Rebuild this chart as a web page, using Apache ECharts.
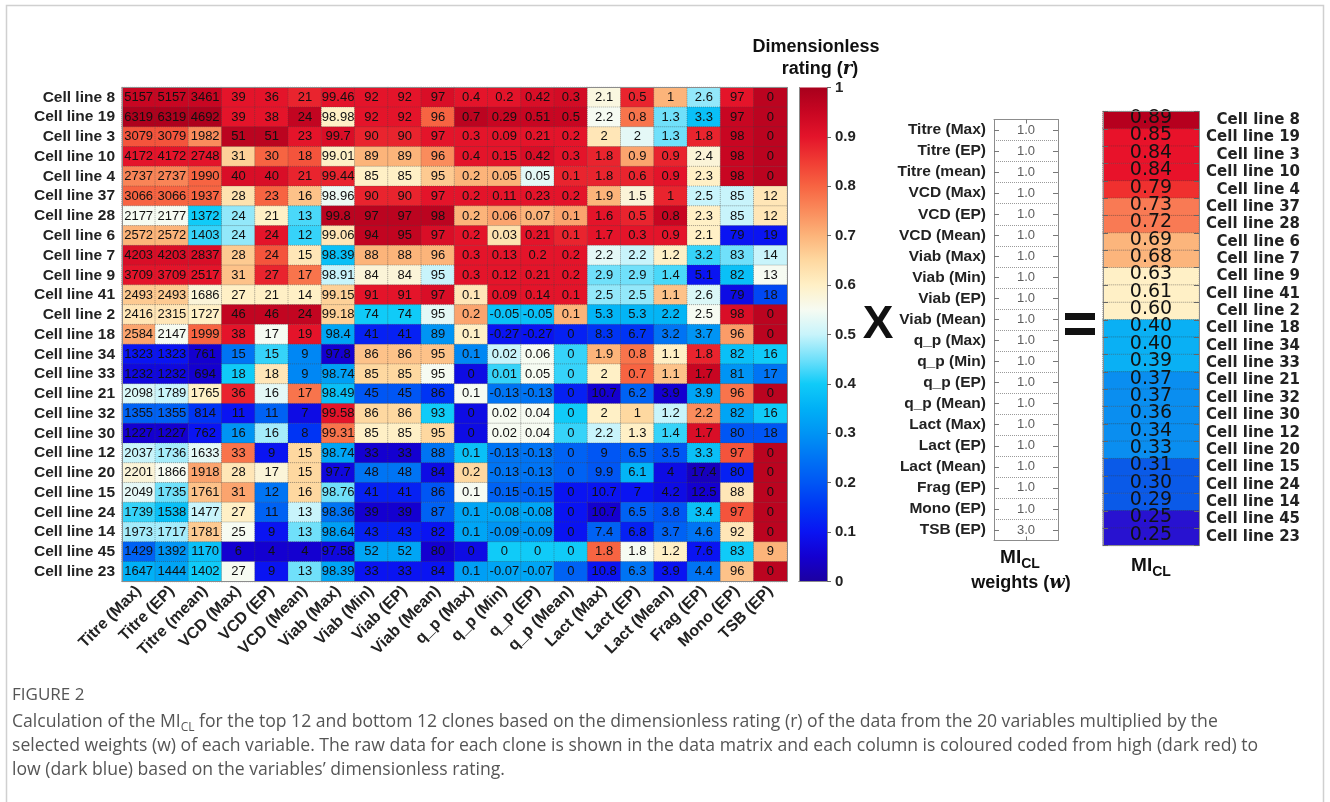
<!DOCTYPE html>
<html>
<head>
<meta charset="utf-8">
<script src="https://cdn.jsdelivr.net/npm/echarts@6/dist/echarts.min.js"></script>
<style>
  html, body { margin: 0; padding: 0; background: #ffffff; }
  #chart { width: 1330px; height: 802px; }
</style>
</head>
<body>
<div id="chart"></div>
<script>
// ---- Data -------------------------------------------------------------
const cellLines = [
  'Cell line 8', 'Cell line 19', 'Cell line 3', 'Cell line 10', 'Cell line 4',
  'Cell line 37', 'Cell line 28', 'Cell line 6', 'Cell line 7', 'Cell line 9',
  'Cell line 41', 'Cell line 2', 'Cell line 18', 'Cell line 34', 'Cell line 33',
  'Cell line 21', 'Cell line 32', 'Cell line 30', 'Cell line 12', 'Cell line 20',
  'Cell line 15', 'Cell line 24', 'Cell line 14', 'Cell line 45', 'Cell line 23'
];

const variables = [
  'Titre (Max)', 'Titre (EP)', 'Titre (mean)', 'VCD (Max)', 'VCD (EP)',
  'VCD (Mean)', 'Viab (Max)', 'Viab (Min)', 'Viab (EP)', 'Viab (Mean)',
  'q_p (Max)', 'q_p (Min)', 'q_p (EP)', 'q_p (Mean)', 'Lact (Max)',
  'Lact (EP)', 'Lact (Mean)', 'Frag (EP)', 'Mono (EP)', 'TSB (EP)'
];

// Raw measurements, one row per cell line (column order = variables)
const rawValues = [
  [5157, 5157, 3461, 39, 36, 21, 99.46, 92, 92, 97, 0.4, 0.2, 0.42, 0.3, 2.1, 0.5, 1, 2.6, 97, 0],
  [6319, 6319, 4692, 39, 38, 24, 98.98, 92, 92, 96, 0.7, 0.29, 0.51, 0.5, 2.2, 0.8, 1.3, 3.3, 97, 0],
  [3079, 3079, 1982, 51, 51, 23, 99.7, 90, 90, 97, 0.3, 0.09, 0.21, 0.2, 2, 2, 1.3, 1.8, 98, 0],
  [4172, 4172, 2748, 31, 30, 18, 99.01, 89, 89, 96, 0.4, 0.15, 0.42, 0.3, 1.8, 0.9, 0.9, 2.4, 98, 0],
  [2737, 2737, 1990, 40, 40, 21, 99.44, 85, 85, 95, 0.2, 0.05, 0.05, 0.1, 1.8, 0.6, 0.9, 2.3, 98, 0],
  [3066, 3066, 1937, 28, 23, 16, 98.96, 90, 90, 97, 0.2, 0.11, 0.23, 0.2, 1.9, 1.5, 1, 2.5, 85, 12],
  [2177, 2177, 1372, 24, 21, 13, 99.8, 97, 97, 98, 0.2, 0.06, 0.07, 0.1, 1.6, 0.5, 0.8, 2.3, 85, 12],
  [2572, 2572, 1403, 24, 24, 12, 99.06, 94, 95, 97, 0.2, 0.03, 0.21, 0.1, 1.7, 0.3, 0.9, 2.1, 79, 19],
  [4203, 4203, 2837, 28, 24, 15, 98.39, 88, 88, 96, 0.3, 0.13, 0.2, 0.2, 2.2, 2.2, 1.2, 3.2, 83, 14],
  [3709, 3709, 2517, 31, 27, 17, 98.91, 84, 84, 95, 0.3, 0.12, 0.21, 0.2, 2.9, 2.9, 1.4, 5.1, 82, 13],
  [2493, 2493, 1686, 27, 21, 14, 99.15, 91, 91, 97, 0.1, 0.09, 0.14, 0.1, 2.5, 2.5, 1.1, 2.6, 79, 18],
  [2416, 2315, 1727, 46, 46, 24, 99.18, 74, 74, 95, 0.2, -0.05, -0.05, 0.1, 5.3, 5.3, 2.2, 2.5, 98, 0],
  [2584, 2147, 1999, 38, 17, 19, 98.4, 41, 41, 89, 0.1, -0.27, -0.27, 0, 8.3, 6.7, 3.2, 3.7, 96, 0],
  [1323, 1323, 761, 15, 15, 9, 97.8, 86, 86, 95, 0.1, 0.02, 0.06, 0, 1.9, 0.8, 1.1, 1.8, 82, 16],
  [1232, 1232, 694, 18, 18, 9, 98.74, 85, 85, 95, 0, 0.01, 0.05, 0, 2, 0.7, 1.1, 1.7, 81, 17],
  [2098, 1789, 1765, 36, 16, 17, 98.49, 45, 45, 86, 0.1, -0.13, -0.13, 0, 10.7, 6.2, 3.9, 3.9, 96, 0],
  [1355, 1355, 814, 11, 11, 7, 99.58, 86, 86, 93, 0, 0.02, 0.04, 0, 2, 1, 1.2, 2.2, 82, 16],
  [1227, 1227, 762, 16, 16, 8, 99.31, 85, 85, 95, 0, 0.02, 0.04, 0, 2.2, 1.3, 1.4, 1.7, 80, 18],
  [2037, 1736, 1633, 33, 9, 15, 98.74, 33, 33, 88, 0.1, -0.13, -0.13, 0, 9, 6.5, 3.5, 3.3, 97, 0],
  [2201, 1866, 1918, 28, 17, 15, 97.7, 48, 48, 84, 0.2, -0.13, -0.13, 0, 9.9, 6.1, 4, 17.4, 80, 0],
  [2049, 1735, 1761, 31, 12, 16, 98.76, 41, 41, 86, 0.1, -0.15, -0.15, 0, 10.7, 7, 4.2, 12.5, 88, 0],
  [1739, 1538, 1477, 27, 11, 13, 98.36, 39, 39, 87, 0.1, -0.08, -0.08, 0, 10.7, 6.5, 3.8, 3.4, 97, 0],
  [1973, 1717, 1781, 25, 9, 13, 98.64, 43, 43, 82, 0.1, -0.09, -0.09, 0, 7.4, 6.8, 3.7, 4.6, 92, 0],
  [1429, 1392, 1170, 6, 4, 4, 97.58, 52, 52, 80, 0, 0, 0, 0, 1.8, 1.8, 1.2, 7.6, 83, 9],
  [1647, 1444, 1402, 27, 9, 13, 98.39, 33, 33, 84, 0.1, -0.07, -0.07, 0, 10.8, 6.3, 3.9, 4.4, 96, 0]
];

// Dimensionless rating (r) of every cell, 0 = worst, 1 = best
const ratings = [
  [0.95, 0.95, 0.95, 0.90, 0.90, 0.88, 0.90, 0.90, 0.90, 0.92, 0.90, 0.90, 0.92, 0.93, 0.57, 0.88, 0.70, 0.47, 0.90, 0.97],
  [0.99, 0.99, 0.99, 0.90, 0.90, 0.96, 0.60, 0.90, 0.90, 0.80, 0.97, 0.95, 0.95, 0.95, 0.55, 0.78, 0.45, 0.38, 0.95, 0.97],
  [0.82, 0.82, 0.75, 0.97, 0.97, 0.90, 0.92, 0.88, 0.88, 0.90, 0.90, 0.90, 0.90, 0.90, 0.62, 0.53, 0.45, 0.88, 0.95, 0.97],
  [0.90, 0.90, 0.90, 0.66, 0.80, 0.82, 0.60, 0.70, 0.70, 0.75, 0.90, 0.90, 0.92, 0.90, 0.88, 0.72, 0.88, 0.58, 0.95, 0.97],
  [0.76, 0.76, 0.80, 0.92, 0.92, 0.88, 0.88, 0.60, 0.60, 0.67, 0.70, 0.70, 0.53, 0.88, 0.88, 0.88, 0.90, 0.60, 0.95, 0.97],
  [0.80, 0.80, 0.80, 0.63, 0.80, 0.68, 0.54, 0.88, 0.88, 0.90, 0.90, 0.90, 0.90, 0.90, 0.70, 0.58, 0.88, 0.50, 0.50, 0.62],
  [0.55, 0.55, 0.40, 0.47, 0.60, 0.43, 0.97, 0.97, 0.97, 0.97, 0.70, 0.72, 0.70, 0.72, 0.90, 0.88, 0.95, 0.60, 0.50, 0.62],
  [0.70, 0.70, 0.42, 0.47, 0.90, 0.42, 0.62, 0.96, 0.96, 0.92, 0.90, 0.63, 0.90, 0.88, 0.90, 0.90, 0.90, 0.60, 0.10, 0.10],
  [0.92, 0.92, 0.92, 0.67, 0.82, 0.62, 0.38, 0.70, 0.70, 0.70, 0.90, 0.90, 0.90, 0.90, 0.53, 0.50, 0.60, 0.42, 0.45, 0.50],
  [0.90, 0.90, 0.90, 0.68, 0.88, 0.78, 0.50, 0.58, 0.58, 0.50, 0.90, 0.90, 0.90, 0.90, 0.45, 0.45, 0.43, 0.10, 0.38, 0.55],
  [0.67, 0.67, 0.58, 0.60, 0.60, 0.60, 0.66, 0.90, 0.90, 0.92, 0.62, 0.90, 0.90, 0.90, 0.47, 0.47, 0.68, 0.52, 0.08, 0.18],
  [0.62, 0.62, 0.60, 0.96, 0.96, 0.96, 0.66, 0.40, 0.40, 0.53, 0.72, 0.38, 0.38, 0.70, 0.36, 0.36, 0.36, 0.55, 0.92, 0.97],
  [0.72, 0.55, 0.80, 0.90, 0.55, 0.90, 0.33, 0.12, 0.12, 0.30, 0.60, 0.10, 0.10, 0.12, 0.15, 0.15, 0.25, 0.30, 0.73, 0.97],
  [0.10, 0.10, 0.05, 0.25, 0.42, 0.28, 0.05, 0.68, 0.68, 0.68, 0.28, 0.50, 0.55, 0.42, 0.70, 0.78, 0.60, 0.88, 0.38, 0.40],
  [0.07, 0.07, 0.05, 0.40, 0.62, 0.28, 0.32, 0.65, 0.65, 0.55, 0.08, 0.42, 0.55, 0.42, 0.60, 0.80, 0.68, 0.95, 0.30, 0.25],
  [0.52, 0.50, 0.60, 0.88, 0.53, 0.78, 0.38, 0.20, 0.20, 0.15, 0.55, 0.25, 0.25, 0.12, 0.05, 0.22, 0.05, 0.33, 0.78, 0.97],
  [0.22, 0.22, 0.15, 0.10, 0.22, 0.08, 0.90, 0.65, 0.65, 0.40, 0.08, 0.55, 0.55, 0.40, 0.60, 0.65, 0.50, 0.75, 0.33, 0.40],
  [0.05, 0.05, 0.10, 0.30, 0.48, 0.15, 0.78, 0.60, 0.60, 0.65, 0.08, 0.55, 0.55, 0.42, 0.50, 0.60, 0.42, 0.92, 0.20, 0.20],
  [0.50, 0.48, 0.53, 0.78, 0.10, 0.65, 0.33, 0.05, 0.05, 0.25, 0.38, 0.25, 0.25, 0.22, 0.20, 0.22, 0.20, 0.38, 0.82, 0.97],
  [0.58, 0.55, 0.72, 0.62, 0.58, 0.65, 0.07, 0.25, 0.25, 0.08, 0.65, 0.25, 0.25, 0.22, 0.20, 0.36, 0.08, 0.03, 0.12, 0.97],
  [0.53, 0.45, 0.68, 0.72, 0.25, 0.65, 0.45, 0.12, 0.12, 0.20, 0.55, 0.22, 0.22, 0.10, 0.10, 0.10, 0.08, 0.05, 0.62, 0.97],
  [0.42, 0.38, 0.50, 0.60, 0.22, 0.50, 0.25, 0.05, 0.05, 0.22, 0.33, 0.33, 0.33, 0.10, 0.05, 0.22, 0.20, 0.38, 0.82, 0.97],
  [0.48, 0.48, 0.67, 0.55, 0.10, 0.45, 0.32, 0.12, 0.12, 0.10, 0.33, 0.30, 0.30, 0.10, 0.22, 0.12, 0.22, 0.25, 0.62, 0.97],
  [0.22, 0.30, 0.38, 0.05, 0.05, 0.05, 0.07, 0.33, 0.33, 0.05, 0.08, 0.40, 0.40, 0.40, 0.80, 0.55, 0.60, 0.10, 0.40, 0.70],
  [0.35, 0.33, 0.40, 0.55, 0.10, 0.45, 0.33, 0.10, 0.10, 0.10, 0.32, 0.33, 0.33, 0.22, 0.10, 0.25, 0.10, 0.25, 0.68, 0.97]
];

// Weight (w) given to each variable
const weights = [1.0, 1.0, 1.0, 1.0, 1.0, 1.0, 1.0, 1.0, 1.0, 1.0,
                 1.0, 1.0, 1.0, 1.0, 1.0, 1.0, 1.0, 1.0, 1.0, 3.0];

// Resulting MI_CL per cell line (same order as cellLines)
const miValues = [0.89, 0.85, 0.84, 0.84, 0.79, 0.73, 0.72, 0.69, 0.68, 0.63, 0.61, 0.60,
                  0.40, 0.40, 0.39, 0.37, 0.37, 0.36, 0.34, 0.33, 0.31, 0.30, 0.29, 0.25, 0.25];

// ---- Styling ------------------------------------------------------------
const SANS = '"Liberation Sans", Arial, Helvetica, sans-serif';
const NARROW = '"Liberation Sans Narrow", "Arial Narrow", "Liberation Sans", Arial, sans-serif';
const WIDE = '"DejaVu Sans", "Liberation Sans", sans-serif';
const SERIF = '"DejaVu Serif", "Liberation Serif", serif';
const CAPTION = '"Open Sans", "Noto Sans", sans-serif';

// blue -> white -> red colour scale, one colour every 0.05 of the rating
const ratingColors = [
  '#1c00a0', '#1400d0', '#0a14f2', '#0034f4', '#0056f4',
  '#0074f4', '#0094f4', '#00b0f6', '#10cbf8', '#70e0fa',
  '#c8f4fb', '#f6fbf2', '#fff0c6', '#fed8a0', '#fcb47a',
  '#fa8c5c', '#f76442', '#f03c34', '#e4142a', '#c80622', '#a8001c'
];

const heatData = [];
rawValues.forEach((row, r) => {
  row.forEach((v, c) => heatData.push([c, r, ratings[r][c], v]));
});
const weightData = weights.map((w, i) => [0, i, w]);
const miData = miValues.map((m, i) => [0, i, m]);

const frameLine = { show: true, lineStyle: { color: '#8c8c8c', width: 1 } };
const noLabel = { show: false };
const noTick = { show: false };

const chart = echarts.init(document.getElementById('chart'));

const option = {
  backgroundColor: '#ffffff',
  animation: false,
  grid: [
    { left: 122, top: 87.5, width: 665, height: 494 },   // data matrix
    { left: 799, top: 87.5, width: 28, height: 494 },    // colour bar
    { left: 994, top: 119.5, width: 64, height: 421 },   // weights column
    { left: 1103, top: 111.5, width: 96, height: 434 }   // MI_CL column
  ],
  xAxis: [
    {
      gridIndex: 0, type: 'category', data: variables, position: 'bottom', z: 5,
      axisLine: frameLine, axisTick: noTick,
      axisLabel: { rotate: 45, interval: 0, margin: 7, fontFamily: SANS, fontWeight: 'bold', fontSize: 16, color: '#222' }
    },
    { gridIndex: 0, type: 'category', data: variables, position: 'top', z: 5, axisLine: frameLine, axisTick: noTick, axisLabel: noLabel },
    { gridIndex: 1, type: 'category', data: ['r'], position: 'bottom', z: 5, axisLine: frameLine, axisTick: noTick, axisLabel: noLabel },
    { gridIndex: 1, type: 'category', data: ['r'], position: 'top', z: 5, axisLine: frameLine, axisTick: noTick, axisLabel: noLabel },
    {
      gridIndex: 2, type: 'category', data: ['w'], position: 'bottom', z: 5, axisLine: frameLine,
      axisTick: { show: true, inside: true, alignWithLabel: true, length: 4, lineStyle: { color: '#777' } }, axisLabel: noLabel
    },
    {
      gridIndex: 2, type: 'category', data: ['w'], position: 'top', z: 5, axisLine: frameLine,
      axisTick: { show: true, inside: true, alignWithLabel: true, length: 4, lineStyle: { color: '#777' } }, axisLabel: noLabel
    },
    { gridIndex: 3, type: 'category', data: ['mi'], position: 'bottom', z: 5, axisLine: frameLine, axisTick: noTick, axisLabel: noLabel },
    { gridIndex: 3, type: 'category', data: ['mi'], position: 'top', z: 5, axisLine: frameLine, axisTick: noTick, axisLabel: noLabel }
  ],
  yAxis: [
    {
      gridIndex: 0, type: 'category', data: cellLines, inverse: true, position: 'left', z: 5,
      axisLine: frameLine, axisTick: noTick,
      axisLabel: { interval: 0, margin: 7, fontFamily: SANS, fontWeight: 'bold', fontSize: 15.5, color: '#222' }
    },
    { gridIndex: 0, type: 'category', data: cellLines, inverse: true, position: 'right', z: 5, axisLine: frameLine, axisTick: noTick, axisLabel: noLabel },
    {
      gridIndex: 1, type: 'value', min: 0, max: 1, interval: 0.1, position: 'right', z: 5,
      axisLine: frameLine, splitLine: { show: false },
      axisTick: { show: true, length: 4, lineStyle: { color: '#666' } },
      axisLabel: { margin: 8, fontFamily: SANS, fontWeight: 'bold', fontSize: 15, color: '#222' }
    },
    { gridIndex: 1, type: 'value', min: 0, max: 1, position: 'left', z: 5, axisLine: frameLine, axisTick: noTick, axisLabel: noLabel, splitLine: { show: false } },
    {
      gridIndex: 2, type: 'category', data: variables, inverse: true, position: 'left', z: 5,
      axisLine: frameLine,
      axisTick: { show: true, inside: true, alignWithLabel: true, interval: 0, length: 5, lineStyle: { color: '#777' } },
      axisLabel: { interval: 0, margin: 8, fontFamily: SANS, fontWeight: 'bold', fontSize: 15.5, color: '#222' },
      splitLine: { show: true, interval: 0, lineStyle: { type: 'dotted', color: '#9a9a9a', width: 1 } }
    },
    {
      gridIndex: 2, type: 'category', data: variables, inverse: true, position: 'right', z: 5,
      axisLine: frameLine,
      axisTick: { show: true, inside: true, alignWithLabel: true, interval: 0, length: 5, lineStyle: { color: '#777' } },
      axisLabel: noLabel
    },
    {
      gridIndex: 3, type: 'category', data: cellLines, inverse: true, position: 'right', z: 5,
      axisLine: frameLine,
      axisTick: { show: true, inside: true, interval: 0, length: 5, lineStyle: { color: '#666' } },
      axisLabel: { interval: 0, margin: 101, align: 'right', fontFamily: WIDE, fontWeight: 'bold', fontSize: 15, color: '#222' }
    },
    {
      gridIndex: 3, type: 'category', data: cellLines, inverse: true, position: 'left', z: 5,
      axisLine: frameLine,
      axisTick: { show: true, inside: true, interval: 0, length: 5, lineStyle: { color: '#666' } },
      axisLabel: noLabel
    }
  ],
  visualMap: [
    {
      type: 'continuous', seriesIndex: 0, dimension: 2, min: 0, max: 1, show: false,
      inRange: { color: ratingColors }
    },
    {
      type: 'piecewise', seriesIndex: 3, dimension: 2, show: false,
      pieces: [
        { gte: 0.87, lte: 1, color: '#b6001e' },
        { gte: 0.82, lt: 0.87, color: '#e8122a' },
        { gte: 0.76, lt: 0.82, color: '#f0302f' },
        { gte: 0.70, lt: 0.76, color: '#f97a54' },
        { gte: 0.65, lt: 0.70, color: '#fcb57c' },
        { gte: 0.55, lt: 0.65, color: '#fff0c6' },
        { gte: 0.385, lt: 0.55, color: '#0ab0f4' },
        { gte: 0.32, lt: 0.385, color: '#0a8ef0' },
        { gte: 0.27, lt: 0.32, color: '#0a5ae8' },
        { gte: 0, lt: 0.27, color: '#2812d0' }
      ]
    }
  ],
  series: [
    {
      name: 'rating',
      type: 'heatmap',
      xAxisIndex: 0, yAxisIndex: 0,
      data: heatData,
      itemStyle: { borderColor: 'rgba(70,70,70,0.45)', borderWidth: 1, borderType: 'dotted' },
      label: {
        show: true,
        formatter: p => String(p.data[3]),
        fontFamily: NARROW, fontSize: 13, color: '#111'
      },
      emphasis: { disabled: true }
    },
    {
      name: 'colour bar',
      type: 'bar',
      xAxisIndex: 2, yAxisIndex: 2,
      data: [1],
      barWidth: '100%',
      silent: true,
      itemStyle: {
        color: new echarts.graphic.LinearGradient(0, 1, 0, 0,
          ratingColors.map((c, i) => ({ offset: i / (ratingColors.length - 1), color: c })))
      }
    },
    {
      name: 'weights',
      type: 'scatter',
      xAxisIndex: 4, yAxisIndex: 4,
      data: weightData,
      symbol: 'rect', symbolSize: 1,
      itemStyle: { color: 'rgba(0,0,0,0)' },
      label: {
        show: true, position: 'inside',
        formatter: p => p.data[2].toFixed(1),
        fontFamily: SANS, fontSize: 13, color: '#333'
      },
      silent: true
    },
    {
      name: 'MI_CL',
      type: 'heatmap',
      xAxisIndex: 6, yAxisIndex: 6,
      data: miData,
      itemStyle: { borderColor: 'rgba(60,60,60,0.45)', borderWidth: 1, borderType: 'dotted' },
      label: {
        show: true,
        formatter: p => p.data[2].toFixed(2),
        fontFamily: WIDE, fontSize: 19, color: '#111', offset: [0, -2]
      },
      emphasis: { disabled: true }
    }
  ],
  graphic: [
    // figure frame
    {
      type: 'rect', silent: true, z: -10,
      shape: { x: 6.5, y: 5.5, width: 1317, height: 830 },
      style: { fill: null, stroke: '#d0d0d0', lineWidth: 1.5 }
    },
    // colour bar title
    {
      type: 'text', x: 816, y: 47, silent: true,
      style: { text: 'Dimensionless', font: 'bold 18px ' + SANS, fill: '#111', align: 'center', verticalAlign: 'middle' }
    },
    {
      type: 'text', x: 820, y: 69, silent: true,
      style: {
        text: '{b|rating (}{i|r}{b|)}', align: 'center', verticalAlign: 'middle',
        rich: {
          b: { font: 'bold 18px ' + SANS, fill: '#111' },
          i: { font: 'italic bold 18px ' + SERIF, fill: '#111' }
        }
      }
    },
    // multiplication sign
    {
      type: 'text', x: 878, y: 325, silent: true,
      style: { text: 'X', font: 'bold 46px ' + SANS, fill: '#111', align: 'center', verticalAlign: 'middle' }
    },
    // equals sign
    { type: 'rect', silent: true, shape: { x: 1065, y: 313, width: 30, height: 7 }, style: { fill: '#111' } },
    { type: 'rect', silent: true, shape: { x: 1065, y: 328, width: 30, height: 7 }, style: { fill: '#111' } },
    // weights caption
    {
      type: 'text', x: 1020, y: 558, silent: true,
      style: {
        text: '{m|MI}{s|CL}', align: 'center', verticalAlign: 'middle',
        rich: {
          m: { font: 'bold 19px ' + SANS, fill: '#111', lineHeight: 26, verticalAlign: 'middle' },
          s: { font: 'bold 14px ' + SANS, fill: '#111', lineHeight: 26, verticalAlign: 'bottom' }
        }
      }
    },
    {
      type: 'text', x: 1021, y: 583, silent: true,
      style: {
        text: '{b|weights (}{i|w}{b|)}', align: 'center', verticalAlign: 'middle',
        rich: {
          b: { font: 'bold 18px ' + SANS, fill: '#111' },
          i: { font: 'italic bold 18px ' + SERIF, fill: '#111' }
        }
      }
    },
    // MI_CL column caption
    {
      type: 'text', x: 1151, y: 566, silent: true,
      style: {
        text: '{m|MI}{s|CL}', align: 'center', verticalAlign: 'middle',
        rich: {
          m: { font: 'bold 19px ' + SANS, fill: '#111', lineHeight: 26, verticalAlign: 'middle' },
          s: { font: 'bold 14px ' + SANS, fill: '#111', lineHeight: 26, verticalAlign: 'bottom' }
        }
      }
    },
    // figure caption
    {
      type: 'text', x: 12, y: 695, silent: true,
      style: { text: 'FIGURE 2', font: '17px ' + CAPTION, fill: '#555', verticalAlign: 'middle' }
    },
    {
      type: 'text', x: 12, y: 722, silent: true,
      style: {
        text: '{t|Calculation of the MI}{s|CL}{t| for the top 12 and bottom 12 clones based on the dimensionless rating (r) of the data from the 20 variables multiplied by the}',
        verticalAlign: 'middle',
        rich: {
          t: { font: '17.6px ' + CAPTION, fill: '#555', lineHeight: 24, verticalAlign: 'middle' },
          s: { font: '12px ' + CAPTION, fill: '#555', lineHeight: 24, verticalAlign: 'bottom' }
        }
      }
    },
    {
      type: 'text', x: 12, y: 746, silent: true,
      style: {
        text: 'selected weights (w) of each variable. The raw data for each clone is shown in the data matrix and each column is coloured coded from high (dark red) to',
        font: '17.6px ' + CAPTION, fill: '#555', verticalAlign: 'middle'
      }
    },
    {
      type: 'text', x: 12, y: 770, silent: true,
      style: {
        text: 'low (dark blue) based on the variables\u2019 dimensionless rating.',
        font: '17.6px ' + CAPTION, fill: '#555', verticalAlign: 'middle'
      }
    }
  ]
};

chart.setOption(option);
</script>
</body>
</html>
